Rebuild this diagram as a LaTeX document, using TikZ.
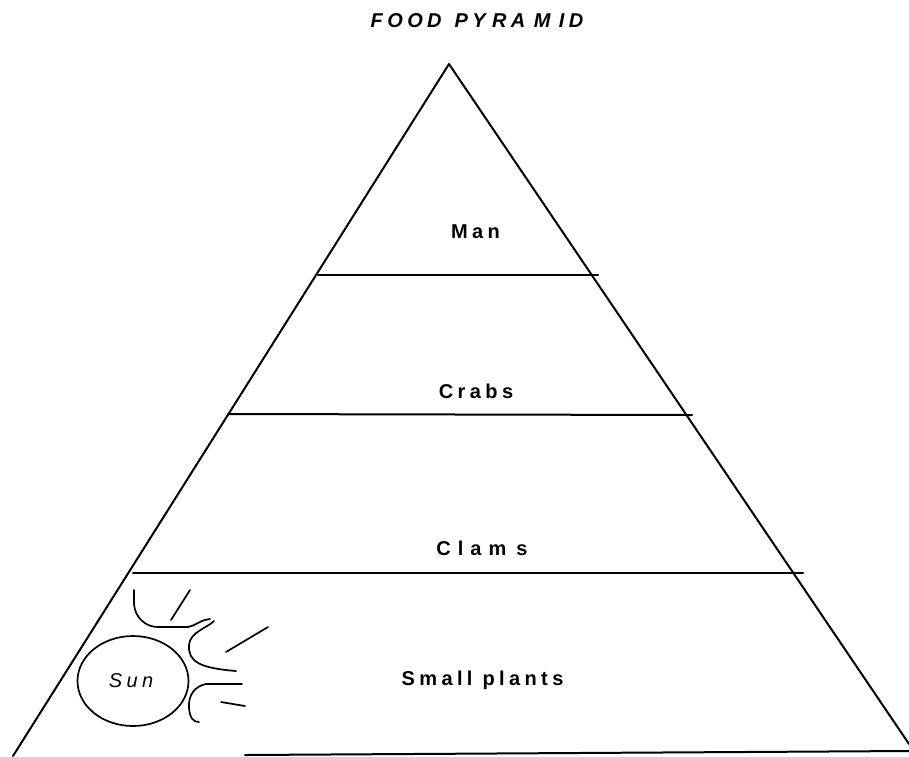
\documentclass[tikz,border=0pt]{standalone}
\usetikzlibrary{shapes.geometric}
\usepackage{fontspec}
\setmainfont{Liberation Sans}
\newfontfamily\spaced[LetterSpace=22]{Liberation Sans}
\tikzset{
  ink/.style={draw=black,line width=2pt,line cap=round,line join=round},
  sketch/.style={draw=black,line width=1.7pt,line cap=round,line join=round},
  lbl/.style={inner sep=0pt,font=\spaced\bfseries\fontsize{20}{22}\selectfont},
}
\begin{document}
\begin{tikzpicture}[x=1pt,y=-1pt]
\useasboundingbox[fill=white] (0,0) rectangle (909,756);
\coordinate (apex) at (449,64);
\coordinate (bl) at (13,756);
\coordinate (br) at (909,744);
\coordinate (bs) at (245,755);
\coordinate (be) at (909,751);
\draw[ink] (bl) -- (apex) -- (br);
\draw[ink] (bs) -- (be);
\coordinate (a1) at (318,275); \coordinate (a2) at (598,275);
\coordinate (b1) at (228,414); \coordinate (b2) at (692,415);
\coordinate (c1) at (133,573); \coordinate (c2) at (803,573);
\draw[ink] (a1) -- (a2);
\draw[ink] (b1) -- (b2);
\draw[ink] (c1) -- (c2);
\node[lbl,font=\spaced\bfseries\itshape\fontsize{20}{22}\selectfont] (title) at (477,21) {FOOD\kern3pt{} PY\kern6.4pt{}RA\kern8.4pt{}M\kern8.4pt{}ID};
\node[lbl] (man) at (475.5,232) {Man};
\node[lbl] (crabs) at (476,391) {Crabs};
\node[lbl] (clams) at (482,548) {C\kern7pt{}l\kern7pt{}a\kern7pt{}m\kern10pt{}s};
\node[lbl] (plants) at (482.5,680) {Small plants};
\node[draw=black,line width=1.7pt,ellipse,minimum width=111pt,minimum height=90pt,inner sep=0pt,font=\spaced\itshape\fontsize{20}{22}\selectfont] (sun) at (133,681) {Sun\kern4pt{}};
\draw[sketch] (134,590) -- (134,604) .. controls (135,618) and (146,627) .. (158,627) -- (188,627) .. controls (195,626) and (200,620) .. (210,619);
\draw[sketch] (214,621) .. controls (207,628) and (190,632) .. (189,645) .. controls (188,662) and (200,668) .. (236,671);
\draw[sketch] (242,684) -- (206,684) .. controls (195,686) and (188,695) .. (189,708) .. controls (190,718) and (193,722) .. (199,722);
\draw[sketch] (190,590) -- (171,620);
\draw[sketch] (268,627) -- (226,652);
\draw[sketch] (221,702) -- (245,706);
\end{tikzpicture}
\end{document}
